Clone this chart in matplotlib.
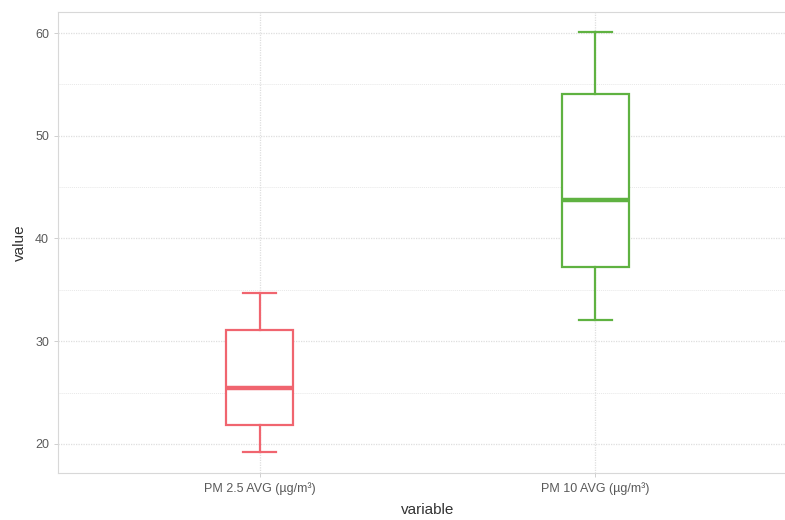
import numpy as np
import matplotlib.pyplot as plt

plt.rcParams['font.family'] = ['Liberation Sans', 'DejaVu Sans']

# box statistics
categories = ['PM 2.5 AVG (µg/m³)', 'PM 10 AVG (µg/m³)']
whislo = [19.2, 32.1]
q1 = [21.8, 37.2]
med = [25.4, 43.7]
q3 = [31.1, 54.1]
whishi = [34.7, 60.1]
colors = ['#f0656f', '#5fb241']

stats = []
for i in range(len(categories)):
    stats.append({'whislo': whislo[i], 'q1': q1[i], 'med': med[i],
                  'q3': q3[i], 'whishi': whishi[i], 'fliers': []})

fig = plt.figure(figsize=(7.85, 5.2), dpi=100)
ax = fig.add_axes([0.074, 0.090, 0.941, 0.887])

# grid like a light ggplot theme
for y in [20, 30, 40, 50, 60]:
    ax.axhline(y, color='#dedede', lw=0.9, ls=(0, (1, 1)), zorder=0)
for y in [25, 35, 45, 55]:
    ax.axhline(y, color='#e8e8e8', lw=0.7, ls=(0, (1, 1)), zorder=0)
for x in [1, 2]:
    ax.axvline(x, color='#dedede', lw=0.9, ls=(0, (1, 1)), zorder=0)

for i, s in enumerate(stats):
    c = colors[i]
    ax.bxp([s], positions=[i + 1], widths=0.2, showfliers=False,
           patch_artist=True, manage_ticks=False,
           boxprops=dict(facecolor='white', edgecolor=c, lw=1.6),
           whiskerprops=dict(color=c, lw=1.6),
           capprops=dict(color=c, lw=1.6),
           medianprops=dict(color=c, lw=3.2),
           capwidths=0.1)

ax.set_xlim(0.4, 2.6)
ax.set_ylim(17.15, 62.05)
ax.set_yticks([20, 30, 40, 50, 60])
ax.set_xticks([1, 2])
ax.set_xticklabels(categories)
ax.tick_params(axis='both', colors='#c8c8c8', labelcolor='#5a5a5a',
               labelsize=9, length=3, width=0.6)
for sp in ax.spines.values():
    sp.set_color('#d8d8d8')
    sp.set_linewidth(0.8)
ax.set_xlabel('variable', fontsize=11, color='#333333', labelpad=6)
ax.set_ylabel('value', fontsize=11, color='#333333', labelpad=6)

fig.savefig('out.png', dpi=100)
